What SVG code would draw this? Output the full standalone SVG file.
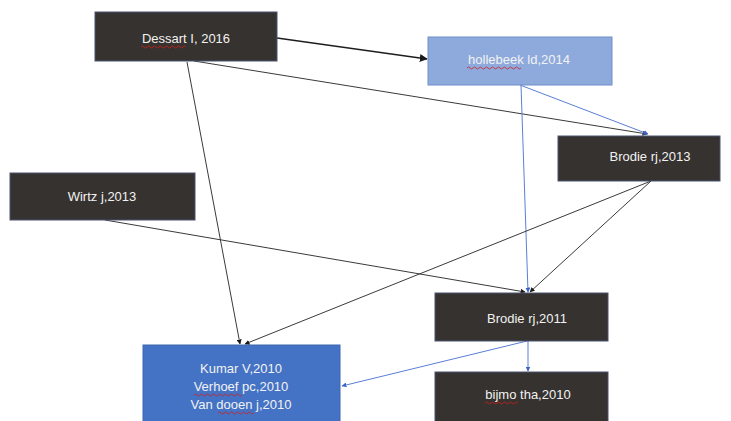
<svg xmlns="http://www.w3.org/2000/svg" width="731" height="421" viewBox="0 0 731 421">
<style>
.dark{fill:#36322f;stroke:#4a5470;stroke-width:1}
.lt{fill:#8eaadc;stroke:#6f8fca;stroke-width:1}
.bl{fill:#4472c4;stroke:#3c66b0;stroke-width:1}
text{font-family:"Liberation Sans",Arial,sans-serif;font-size:13px;fill:#f2f2f2;text-anchor:middle}
.k{stroke:#3a3a3a;stroke-width:1;fill:none}
.b{stroke:#5b7fd6;stroke-width:1;fill:none}
.sq{stroke:#d02020;stroke-width:0.8;fill:none}
</style>
<defs>
<marker id="ak" viewBox="0 0 10 10" refX="9" refY="5" markerWidth="5" markerHeight="5" orient="auto"><path d="M0,0L10,5L0,10z" fill="#1a1a1a"/></marker>
<marker id="ab" viewBox="0 0 10 10" refX="9" refY="5" markerWidth="5" markerHeight="5" orient="auto"><path d="M0,0L10,5L0,10z" fill="#3a62c8"/></marker>
</defs>
<rect width="731" height="421" fill="#ffffff"/>
<g id="connectors">
<line class="k" x1="277" y1="38" x2="427" y2="59" style="stroke-width:1.6;stroke:#1e1e1e" marker-end="url(#ak)"/>
<line class="k" x1="187" y1="62" x2="240" y2="344" marker-end="url(#ak)"/>
<line class="k" x1="194" y1="61" x2="647" y2="134" marker-end="url(#ak)"/>
<line class="b" x1="520" y1="85" x2="648" y2="134" marker-end="url(#ab)"/>
<line class="b" x1="521" y1="85" x2="528" y2="292" marker-end="url(#ab)"/>
<line class="k" x1="651" y1="181" x2="245" y2="344" marker-end="url(#ak)"/>
<line class="k" x1="651" y1="181" x2="530" y2="292" marker-end="url(#ak)"/>
<line class="k" x1="105" y1="220" x2="525" y2="292" marker-end="url(#ak)"/>
<line class="b" x1="528" y1="341" x2="528" y2="371" marker-end="url(#ab)"/>
<line class="b" x1="527" y1="341" x2="342" y2="386" marker-end="url(#ab)"/>
</g>
<g id="dessart">
<rect class="dark" x="95" y="12" width="182" height="49"/>
<text x="186" y="43">Dessart I, 2016</text>
<path class="sq" d="M141,47 q1.5,-2 3,0 t3,0 t3,0 t3,0 t3,0 t3,0 t3,0 t3,0 t3,0 t3,0 t3,0 t3,0 t3,0 t3,0 t3,0"/>
</g>
<g id="hollebeek">
<rect class="lt" x="428" y="37" width="184" height="48"/>
<text x="519" y="64">hollebeek ld,2014</text>
<path class="sq" d="M467,68 q1.5,-2 3,0 t3,0 t3,0 t3,0 t3,0 t3,0 t3,0 t3,0 t3,0 t3,0 t3,0 t3,0 t3,0 t3,0 t3,0 t3,0 t3,0 t3,0"/>
</g>
<g id="brodie2013">
<rect class="dark" x="558" y="136" width="162" height="45"/>
<text x="650" y="161">Brodie rj,2013</text>
</g>
<g id="wirtz">
<rect class="dark" x="10" y="173" width="185" height="47"/>
<text x="102" y="201">Wirtz j,2013</text>
</g>
<g id="brodie2011">
<rect class="dark" x="435" y="293" width="173" height="48"/>
<text x="527" y="323">Brodie rj,2011</text>
</g>
<g id="kumar">
<rect class="bl" x="143" y="345" width="197" height="80"/>
<text x="241" y="373">Kumar V,2010</text>
<text x="241" y="391">Verhoef pc,2010</text>
<text x="241" y="409">Van dooen j,2010</text>
<path class="sq" d="M194,395 q1.5,-2 3,0 t3,0 t3,0 t3,0 t3,0 t3,0 t3,0 t3,0 t3,0 t3,0 t3,0 t3,0 t3,0 t3,0 t3,0 t3,0"/>
<path class="sq" d="M218,413 q1.5,-2 3,0 t3,0 t3,0 t3,0 t3,0 t3,0 t3,0 t3,0 t3,0 t3,0 t3,0 t3,0"/>
</g>
<g id="bijmo">
<rect class="dark" x="435" y="372" width="173" height="52"/>
<text x="528" y="399">bijmo tha,2010</text>
<path class="sq" d="M485,403 q1.5,-2 3,0 t3,0 t3,0 t3,0 t3,0 t3,0 t3,0 t3,0 t3,0 t3,0 t3,0"/>
</g>
</svg>
